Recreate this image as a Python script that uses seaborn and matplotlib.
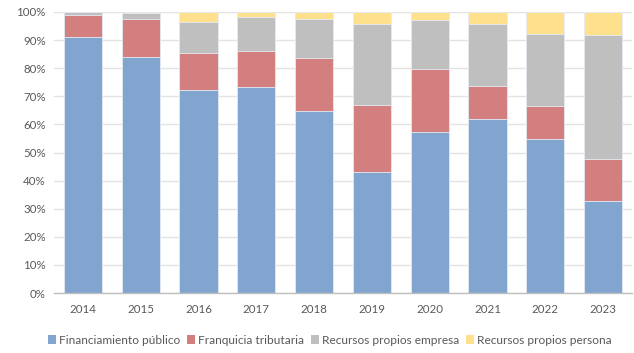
import matplotlib
matplotlib.use("Agg")
import matplotlib.pyplot as plt
from matplotlib.patches import Patch
import seaborn as sns
import pandas as pd
import numpy as np

years = ["2014", "2015", "2016", "2017", "2018", "2019", "2020", "2021", "2022", "2023"]
financiamiento_publico = [91.2, 83.9, 72.1, 73.2, 64.8, 43.2, 57.2, 61.9, 54.7, 32.6]
franquicia_tributaria = [7.8, 13.7, 13.4, 13.0, 18.9, 23.7, 22.6, 11.7, 12.0, 15.1]
recursos_empresa = [1.0, 2.0, 10.9, 11.9, 13.8, 28.9, 17.2, 22.2, 25.6, 44.2]
recursos_persona = [0.0, 0.4, 3.6, 1.9, 2.5, 4.2, 3.0, 4.2, 7.7, 8.1]

series_names = ["Financiamiento público", "Franquicia tributaria",
                "Recursos propios empresa", "Recursos propios persona"]
colors = ["#81A5CF", "#D47F7F", "#BFBFBF", "#FFE08C"]

sns.set_theme(style="white")
plt.rcParams["font.family"] = ["Lato", "DejaVu Sans"]

df = pd.DataFrame({
    "year": years,
    series_names[0]: financiamiento_publico,
    series_names[1]: franquicia_tributaria,
    series_names[2]: recursos_empresa,
    series_names[3]: recursos_persona,
})
vals = df[series_names].to_numpy()
cum = np.cumsum(vals, axis=1)
total = cum[:, -1:]
cum_pct = cum / total * 100

fig = plt.figure(figsize=(6.34, 3.53), dpi=100)
ax = fig.add_axes([54 / 634, 1 - 293 / 353, 578 / 634, 281 / 353])

for i in range(3, -1, -1):
    d = pd.DataFrame({"year": years, "v": cum_pct[:, i]})
    sns.barplot(data=d, x="year", y="v", color=colors[i], saturation=1,
                width=0.66, ax=ax, edgecolor="#E6ECF4", linewidth=0.6, zorder=2)

ax.set_ylim(0, 100)
ax.set_xlim(-0.5, 9.5)
ax.set_yticks(np.arange(0, 101, 10))
ax.set_yticklabels([f"{t}%" for t in range(0, 101, 10)])
ax.yaxis.grid(True, color="#E3E3E3", linewidth=1, zorder=0)
ax.set_axisbelow(True)
for s in ["top", "right", "left"]:
    ax.spines[s].set_visible(False)
ax.spines["bottom"].set_color("#BFBFBF")
ax.spines["bottom"].set_linewidth(1)
ax.set_xlabel("")
ax.set_ylabel("")
ax.tick_params(axis="both", length=0, labelsize=8.3, colors="#595959", pad=6)
ax.tick_params(axis="x", pad=8)

handles = [Patch(facecolor=c, edgecolor="none") for c in colors]
fig.legend(handles, series_names, loc="center", bbox_to_anchor=(0.52, 13 / 353),
           ncol=4, frameon=False, fontsize=8.6, handlelength=0.7, handleheight=0.7,
           handletextpad=0.25, columnspacing=0.55, labelcolor="#595959")

fig.savefig("out.png", dpi=100)
